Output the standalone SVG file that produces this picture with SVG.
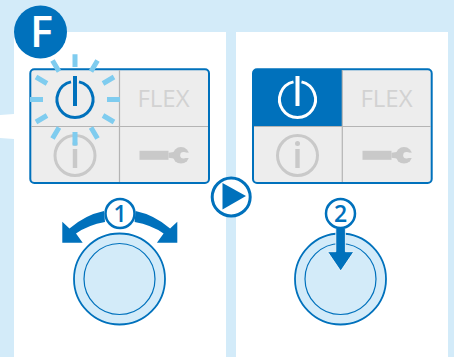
<svg xmlns="http://www.w3.org/2000/svg" width="454" height="357" viewBox="0 0 454 357">
<style>
.frame{fill:#ededed;stroke:#0071bc;stroke-width:2}
.div{stroke:#b4b4b4;stroke-width:1.2;fill:none}
.ray{stroke:#7fccef;stroke-width:5;fill:none}
.gray{stroke:#c9c9c9;fill:none}
.flex{font-family:"Open Sans",sans-serif;font-size:24px;font-weight:400;fill:#d2d2d2;text-anchor:middle}
.blue{fill:#0071bc}
.knob{fill:#d3ebf9;stroke:#0071bc;stroke-width:1.800}
.inner{fill:none;stroke:#0071bc;stroke-width:1.200}
.badge{fill:#fff;stroke:#0071bc;stroke-width:2.500}
.num{font-family:"Open Sans",sans-serif;font-size:23px;font-weight:600;fill:#0071bc;text-anchor:middle}
</style>
<defs>
<g id="wrench"><rect x="0" y="-4.500" width="29" height="9" fill="#c9c9c9"/><path d="M29 -2.500L36 -3.500V3.500L29 2.500Z" fill="#c9c9c9"/><circle cx="41.500" r="8.300" fill="#c9c9c9"/><circle cx="44" r="3.300" fill="#ededed"/><rect x="44" y="-2.700" width="7" height="5.400" fill="#ededed"/></g>
<g id="info"><circle r="20" stroke-width="3" class="gray"/><rect x="-2.200" y="-6.500" width="4.400" height="19" fill="#c9c9c9"/><circle cy="-12" r="2.500" fill="#c9c9c9"/></g>
<path id="power-arc" d="M-4 -17.600A18 18 0 1 0 4 -17.600" fill="none" stroke-width="3"/>
</defs>
<rect width="454" height="357" fill="#d3ebf9"/>
<path d="M14 32H226V357H14V139L0 138V115L14 114Z" fill="#fff"/>
<rect x="236" y="32" width="212" height="325" fill="#fff"/>
<g id="badge-f"><circle cx="40.500" cy="32" r="26.500" fill="#0071bc"/><text x="41.500" y="46.700" font-family="Open Sans,sans-serif" font-size="43" font-weight="600" fill="#fff" text-anchor="middle">F</text></g>
<g id="panel-left">
<rect x="30.300" y="69.300" width="178.700" height="113.700" rx="4" class="frame"/>
<path d="M119.500 70V182M31 126.500H208" class="div"/>
<use href="#power-arc" x="75" y="99.500" stroke="#0071bc"/>
<rect x="73" y="76" width="4" height="30" fill="#0071bc"/>
<use href="#info" x="75" y="155.500"/>
<text x="163.500" y="106.800" class="flex">FLEX</text>
<use href="#wrench" x="139.500" y="155.300"/>
<g class="ray"><path d="M75 54.300V67M75 132V145.500M30 99.500H43M107 99.500H120M52.500 60.500L59 71.500M97.500 60.500L91 71.500M36 77L47 83.500M114 77L103 83.500M36 122L47 115.500M114 122L103 115.500M52.500 138.500L59 127.500M97.500 138.500L91 127.500"/></g>
</g>
<g id="panel-right">
<rect x="253" y="69.300" width="178.700" height="113.700" rx="4" class="frame"/>
<path d="M253 73.300A4 4 0 0 1 257 69.300H342V126.500H253Z" fill="#0071bc"/>
<path d="M342.300 70V182M254 126.500H431" class="div"/>
<use href="#power-arc" x="297.500" y="99.500" stroke="#fff"/>
<rect x="295.500" y="76" width="4" height="30" fill="#fff"/>
<use href="#info" x="297.500" y="155.500"/>
<text x="386.500" y="106.800" class="flex">FLEX</text>
<use href="#wrench" x="362.500" y="155.300"/>
</g>
<g id="play"><circle cx="231.200" cy="197" r="19" fill="#fff" stroke="#0071bc" stroke-width="3"/><path d="M222.500 183L246 196L222.500 209.500Z" fill="#0071bc"/></g>
<g id="knob-left">
<circle cx="119.500" cy="279" r="45.500" class="knob"/><circle cx="119.500" cy="279" r="35.500" class="inner"/>
<path d="M104 211Q85 215 69.500 228.500L62.300 221.700V242.700H82.700L76 233.500Q88 225 105 222Z" class="blue"/>
<path d="M135.600 211Q154.600 215 170.100 228.500L177.300 221.700V242.700H156.900L163.600 233.500Q151.600 225 134.600 222Z" class="blue"/>
<circle cx="120" cy="213.500" r="14.500" class="badge"/><text x="120" y="221.700" class="num">1</text>
</g>
<g id="knob-right">
<circle cx="340.500" cy="279" r="45.500" class="knob"/><circle cx="340.500" cy="279" r="35.500" class="inner"/>
<path d="M335.800 228H345.400V251.700H353.800L340.700 271L327.600 251.700H335.800Z" class="blue" stroke="#fff" stroke-width=".8"/>
<circle cx="340.500" cy="213.500" r="14.500" class="badge"/><text x="340.500" y="222" class="num">2</text>
</g>
</svg>
